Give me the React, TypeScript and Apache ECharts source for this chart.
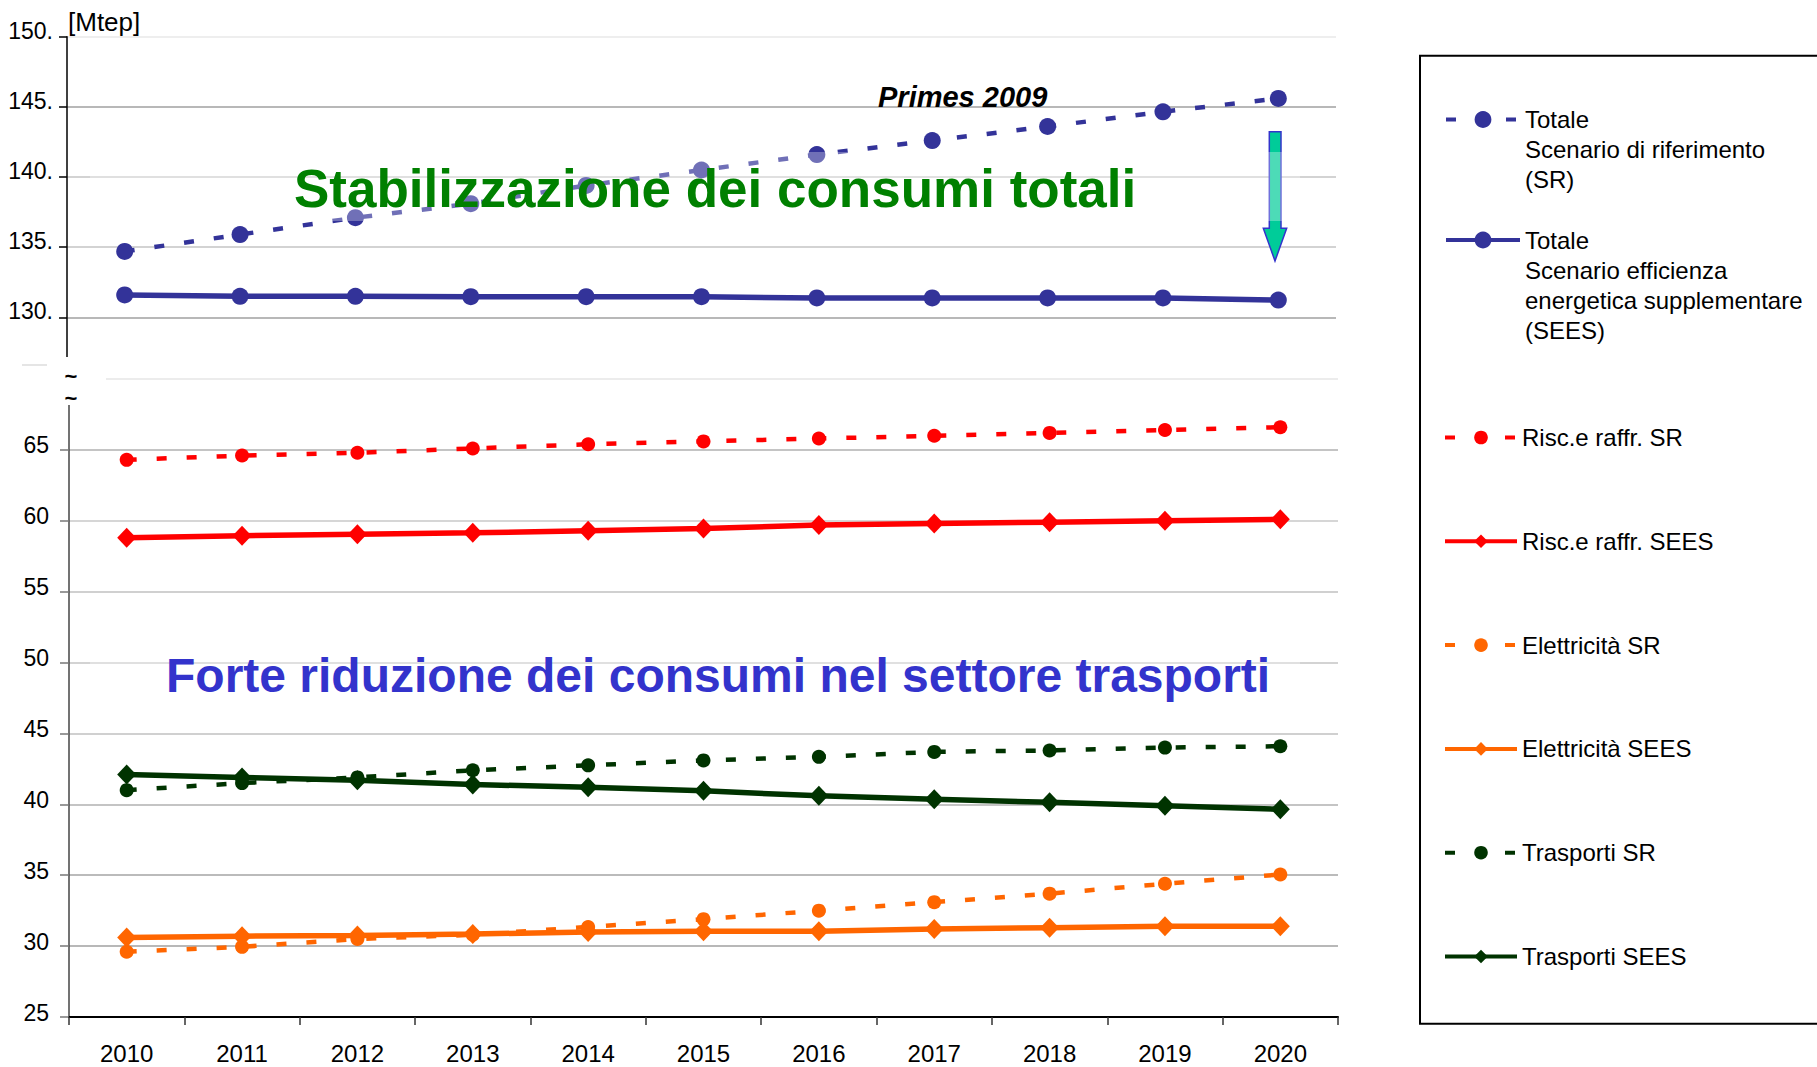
import React, { useEffect, useRef } from 'react';
import * as echarts from 'echarts';

const years = ['2010', '2011', '2012', '2013', '2014', '2015', '2016', '2017', '2018', '2019', '2020'];

const totaleSR = [134.7, 135.9, 137.1, 138.1, 139.4, 140.5, 141.6, 142.6, 143.6, 144.65, 145.6];
const totaleSEES = [131.6, 131.5, 131.5, 131.47, 131.47, 131.47, 131.38, 131.38, 131.38, 131.38, 131.23];
const riscSR = [64.3, 64.6, 64.8, 65.1, 65.4, 65.6, 65.8, 66.0, 66.2, 66.4, 66.6];
const riscSEES = [58.8, 58.95, 59.05, 59.15, 59.3, 59.45, 59.7, 59.8, 59.9, 60.0, 60.1];
const elettrSR = [29.6, 29.95, 30.5, 30.8, 31.35, 31.9, 32.5, 33.1, 33.7, 34.4, 35.05];
const elettrSEES = [30.6, 30.7, 30.75, 30.85, 31.0, 31.05, 31.05, 31.2, 31.3, 31.4, 31.4];
const traspSR = [41.0, 41.5, 41.9, 42.4, 42.75, 43.1, 43.35, 43.7, 43.8, 44.0, 44.1];
const traspSEES = [42.1, 41.9, 41.7, 41.4, 41.2, 40.95, 40.6, 40.35, 40.15, 39.9, 39.65];

const N_TOT_SR = 'Totale\nScenario di riferimento\n(SR)';
const N_TOT_SEES = 'Totale\nScenario efficienza\nenergetica supplementare\n(SEES)';
const N_RISC_SR = 'Risc.e raffr. SR';
const N_RISC_SEES = 'Risc.e raffr. SEES';
const N_EL_SR = 'Elettricità SR';
const N_EL_SEES = 'Elettricità SEES';
const N_TR_SR = 'Trasporti SR';
const N_TR_SEES = 'Trasporti SEES';

const FONT = "'Liberation Sans', Arial, Helvetica, sans-serif";

const BLUE = '#333399';
const RED = '#FF0000';
const ORANGE = '#FF6600';
const DKGREEN = '#003300';

function mk(name: string, data: number[], color: string, dashed: boolean, symbol: string, size: any, grid: number) {
  return {
    name,
    type: 'line',
    xAxisIndex: grid,
    yAxisIndex: grid,
    data,
    symbol,
    symbolSize: size,
    showSymbol: true,
    silent: true,
    lineStyle: { color, width: dashed ? 4.5 : 5.5, type: dashed ? [10, 20] : 'solid', cap: 'butt' },
    itemStyle: { color },
    emphasis: { disabled: true },
  };
}

export default function App() {
  const ref = useRef<HTMLDivElement>(null);
  useEffect(() => {
    const chart = echarts.init(ref.current!, null, { renderer: 'svg' });
    const legendText = {
      fontSize: 24,
      color: '#000',
      lineHeight: 30,
      fontFamily: FONT,
    };
    const option: any = {
      animation: false,
      backgroundColor: '#ffffff',
      textStyle: { fontFamily: FONT },
      grid: [
        { left: 67, right: 481, top: 36.7, bottom: 679.5 },
        { left: 69, right: 479, top: 379, bottom: 50 },
      ],
      xAxis: [
        { gridIndex: 0, type: 'category', data: years, boundaryGap: true, show: false },
        {
          gridIndex: 1,
          type: 'category',
          data: years,
          boundaryGap: true,
          axisLine: { lineStyle: { color: '#000', width: 2 } },
          axisTick: { show: true, length: 8, interval: 0, lineStyle: { color: '#333', width: 1.5 } },
          axisLabel: { color: '#000', fontSize: 24, margin: 24, interval: 0, fontFamily: FONT },
          splitLine: { show: false },
        },
      ],
      yAxis: [
        {
          gridIndex: 0,
          type: 'value',
          min: 125,
          max: 150,
          interval: 5,
          axisLine: { show: true, lineStyle: { color: '#000', width: 1.5 } },
          axisTick: { show: true, length: 8, lineStyle: { color: '#000', width: 1.5 } },
          axisLabel: {
            color: '#000',
            fontSize: 23,
            margin: 14,
            fontFamily: FONT,
            verticalAlign: 'bottom',
            lineHeight: 12,
            showMinLabel: false,
            formatter: (v: number) => (v === 125 ? '' : `${v}.`),
          },
          splitLine: {
            show: true,
            lineStyle: {
              width: 1.5,
              color: ['rgba(0,0,0,0)', '#a0a0a0', '#c4c4c4', '#c4c4c4', '#a0a0a0', '#e8e8e8'],
            },
          },
        },
        {
          gridIndex: 1,
          type: 'value',
          min: 25,
          max: 70,
          interval: 5,
          axisLine: { show: true, lineStyle: { color: '#444', width: 1.5 } },
          axisTick: { show: true, length: 9, lineStyle: { color: '#777', width: 1.5 } },
          axisLabel: {
            color: '#000',
            fontSize: 23,
            margin: 20,
            fontFamily: FONT,
            verticalAlign: 'bottom',
            lineHeight: 9,
            showMaxLabel: false,
            formatter: (v: number) => (v === 70 ? '' : `${v}`),
          },
          splitLine: {
            show: true,
            lineStyle: {
              width: 1.5,
              color: ['#a0a0a0', '#a0a0a0', '#a4a4a4', '#b0b0b0', '#c0c0c0', '#c4c4c4', '#c0c0c0', '#c8c8c8', '#b0b0b0', '#e6e6e6'],
            },
          },
        },
      ],
      legend: [
        {
          data: [N_TOT_SR],
          orient: 'vertical',
          left: 1444,
          top: 44.5,
          itemWidth: 74,
          itemHeight: 21,
          itemGap: 0,
          padding: 0,
          selectedMode: false,
          lineStyle: { width: 4 },
          formatter: (name: string) => '\n\n' + name,
          textStyle: legendText,
        },
        {
          data: [N_TOT_SEES],
          orient: 'vertical',
          left: 1444,
          top: 135,
          itemWidth: 74,
          itemHeight: 21,
          itemGap: 0,
          padding: 0,
          selectedMode: false,
          lineStyle: { width: 4 },
          formatter: (name: string) => '\n\n\n' + name,
          textStyle: legendText,
        },
        {
          data: [N_RISC_SR, N_RISC_SEES, N_EL_SR, N_EL_SEES, N_TR_SR, N_TR_SEES],
          orient: 'vertical',
          left: 1443,
          top: 422.5,
          itemWidth: 72,
          itemHeight: 17,
          itemGap: 73.8,
          padding: 0,
          selectedMode: false,
          lineStyle: { width: 4 },
          textStyle: legendText,
        },
      ],
      series: [
        mk(N_TOT_SR, totaleSR, BLUE, true, 'circle', 17, 0),
        mk(N_TOT_SEES, totaleSEES, BLUE, false, 'circle', 17, 0),
        mk(N_RISC_SR, riscSR, RED, true, 'circle', 14, 1),
        mk(N_RISC_SEES, riscSEES, RED, false, 'diamond', [19, 20], 1),
        mk(N_EL_SR, elettrSR, ORANGE, true, 'circle', 14, 1),
        mk(N_EL_SEES, elettrSEES, ORANGE, false, 'diamond', [19, 20], 1),
        mk(N_TR_SR, traspSR, DKGREEN, true, 'circle', 14, 1),
        mk(N_TR_SEES, traspSEES, DKGREEN, false, 'diamond', [19, 20], 1),
      ],
      graphic: [
        // legend frame
        {
          type: 'rect',
          z: 1,
          shape: { x: 1420, y: 55.7, width: 430, height: 968 },
          style: { fill: 'none', stroke: '#000', lineWidth: 2 },
        },
        {
          type: 'text',
          z: 5,
          x: 68,
          y: 22,
          style: { text: '[Mtep]', fill: '#000', font: `26px ${FONT}`, align: 'left', verticalAlign: 'middle' },
        },
        {
          type: 'text',
          z: 12,
          x: 878,
          y: 96.5,
          style: { text: 'Primes 2009', fill: '#000', font: `italic bold 29px ${FONT}`, align: 'left', verticalAlign: 'middle' },
        },
        // arrow
        {
          type: 'polygon',
          z: 9,
          shape: {
            points: [
              [1269.3, 131.7],
              [1281, 131.7],
              [1281, 228.3],
              [1286.7, 228.3],
              [1275, 261],
              [1263.3, 228.3],
              [1269.3, 228.3],
            ],
          },
          style: { fill: '#00CC99', stroke: '#3333CC', lineWidth: 1.5 },
        },
        // translucent text boxes
        {
          type: 'rect',
          z: 10,
          shape: { x: 90, y: 152, width: 1210, height: 69 },
          style: { fill: 'rgba(255,255,255,0.3)' },
        },
        {
          type: 'rect',
          z: 10,
          shape: { x: 90, y: 642, width: 1210, height: 62 },
          style: { fill: 'rgba(255,255,255,0.3)' },
        },
        {
          type: 'text',
          z: 11,
          x: 294,
          y: 188.5,
          style: {
            text: 'Stabilizzazione dei consumi totali',
            fill: '#008000',
            font: `bold 53px ${FONT}`,
            align: 'left',
            verticalAlign: 'middle',
          },
        },
        {
          type: 'text',
          z: 11,
          x: 166,
          y: 675.5,
          style: {
            text: 'Forte riduzione dei consumi nel settore trasporti',
            fill: '#3333CC',
            font: `bold 48px ${FONT}`,
            align: 'left',
            verticalAlign: 'middle',
          },
        },
        // axis break patch
        {
          type: 'rect',
          z: 20,
          shape: { x: 5, y: 357, width: 101, height: 48 },
          style: { fill: '#ffffff' },
        },
        {
          type: 'line',
          z: 21,
          shape: { x1: 22, y1: 365, x2: 47, y2: 365 },
          style: { stroke: '#dddddd', lineWidth: 1.5 },
        },
        {
          type: 'text',
          z: 21,
          x: 71,
          y: 387.5,
          style: {
            text: '~\n~',
            fill: '#000',
            font: `bold 22px ${FONT}`,
            lineHeight: 22,
            align: 'center',
            verticalAlign: 'middle',
          },
        },
      ],
    };
    chart.setOption(option);
    return () => {
      chart.dispose();
    };
  }, []);
  return (
    <div
      ref={ref}
      style={{ position: 'absolute', left: 0, top: 0, width: 1817, height: 1067, background: '#fff' }}
    />
  );
}
